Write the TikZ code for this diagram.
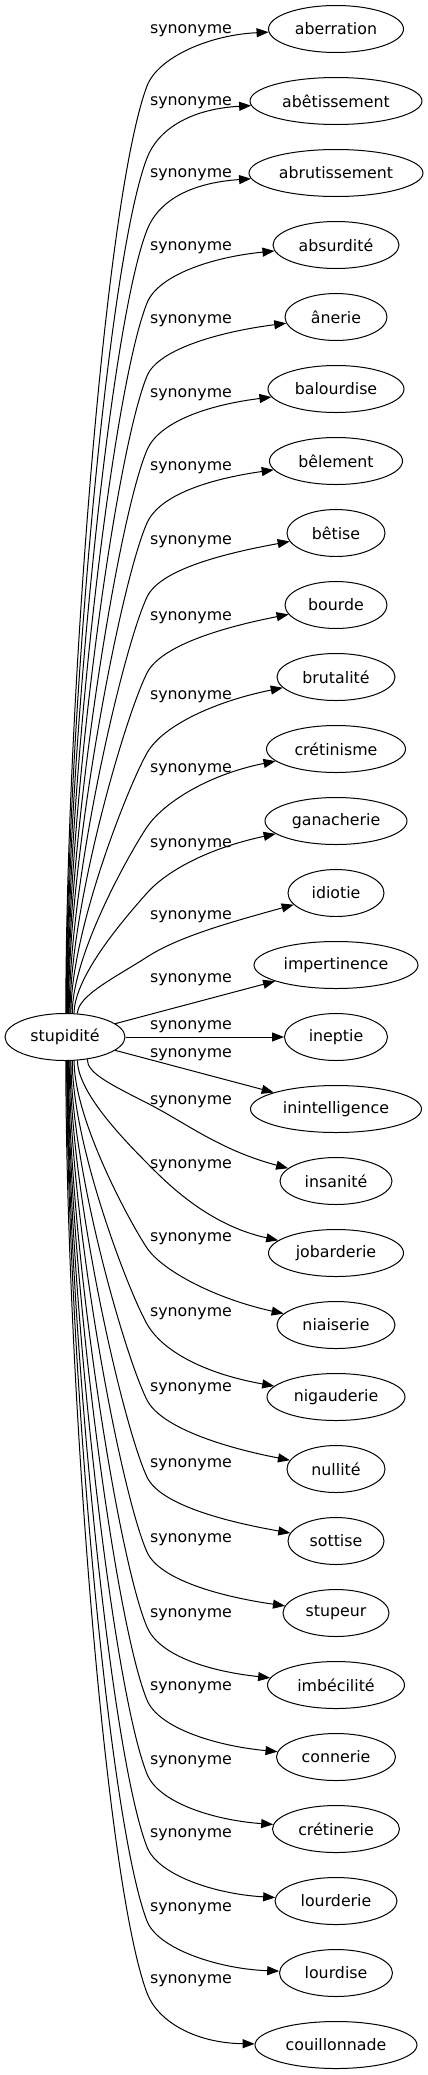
\documentclass[tikz,border=0pt]{standalone}
\usepackage{fontspec}
\setmainfont{DejaVu Sans}
\usepackage{tikz}
\usetikzlibrary{arrows.meta,calc,shapes.geometric}
\newcommand{\wordsize}{\fontsize{15.8}{19}\selectfont}
% link from the head word up to a synonym, bending at x=147
\newcommand{\linkup}[4]{%
  \pgfmathsetmacro{\hh}{1013-#3}%
  \pgfmathsetmacro{\ca}{0.32*\hh}%
  \pgfmathsetmacro{\rr}{0.3+70/\hh}%
  \pgfmathsetmacro{\cq}{max(0.124*\hh,20)}%
  \pgfmathsetmacro{\cs}{min(28,\cq)}%
  \draw[arr] (head.#2) .. controls +(0,-\ca) and +(-\rr*\cq,\cq) .. (147,#3)
    .. controls +(\rr*\cs,-\cs) and ($(#1.west)+(-60,#4)$) .. (#1);}
% same thing, going down
\newcommand{\linkdown}[4]{%
  \pgfmathsetmacro{\hh}{#3-1061}%
  \pgfmathsetmacro{\ca}{0.32*\hh}%
  \pgfmathsetmacro{\rr}{0.3+70/\hh}%
  \pgfmathsetmacro{\cq}{max(0.124*\hh,20)}%
  \pgfmathsetmacro{\cs}{min(28,\cq)}%
  \draw[arr] (head.#2) .. controls +(0,\ca) and +(-\rr*\cq,-\cq) .. (147,#3)
    .. controls +(\rr*\cs,\cs) and ($(#1.west)+(-60,-#4)$) .. (#1);}

\begin{document}
\begin{tikzpicture}[
    x=1pt,y=-1pt,
    term/.style={ellipse,draw,line width=1pt,minimum height=47pt,
      inner xsep=1pt,inner ysep=1pt,font=\wordsize},
    lab/.style={inner sep=0pt,font=\wordsize},
    arr/.style={-{Triangle[length=12pt,width=9pt]},line width=1pt}
  ]
    \useasboundingbox (0,0) rectangle (428,2075);
    \node[term,minimum width=120pt] (head) at (65,1037) {stupidité};

    % synonyms
    \node[term,minimum width=135pt] (aberration) at (336,29) {aberration};
    \node[term,minimum width=172pt] (abetissement) at (336,101) {abêtissement};
    \node[term,minimum width=174pt] (abrutissement) at (336,173) {abrutissement};
    \node[term,minimum width=126pt] (absurdite) at (336,245) {absurdité};
    \node[term,minimum width=102pt] (anerie) at (336,317) {ânerie};
    \node[term,minimum width=136pt] (balourdise) at (336,389) {balourdise};
    \node[term,minimum width=133pt] (belement) at (336,461) {bêlement};
    \node[term,minimum width=98pt] (betise) at (336,533) {bêtise};
    \node[term,minimum width=102pt] (bourde) at (336,605) {bourde};
    \node[term,minimum width=118pt] (brutalite) at (336,677) {brutalité};
    \node[term,minimum width=139pt] (cretinisme) at (336,749) {crétinisme};
    \node[term,minimum width=142pt] (ganacherie) at (336,821) {ganacherie};
    \node[term,minimum width=96pt] (idiotie) at (336,893) {idiotie};
    \node[term,minimum width=164pt] (impertinence) at (336,965) {impertinence};
    \node[term,minimum width=103pt] (ineptie) at (336,1037) {ineptie};
    \node[term,minimum width=171pt] (inintelligence) at (336,1109) {inintelligence};
    \node[term,minimum width=112pt] (insanite) at (336,1181) {insanité};
    \node[term,minimum width=135pt] (jobarderie) at (336,1253) {jobarderie};
    \node[term,minimum width=118pt] (niaiserie) at (336,1325) {niaiserie};
    \node[term,minimum width=138pt] (nigauderie) at (336,1397) {nigauderie};
    \node[term,minimum width=98pt] (nullite) at (336,1469) {nullité};
    \node[term,minimum width=96pt] (sottise) at (336,1541) {sottise};
    \node[term,minimum width=106pt] (stupeur) at (336,1613) {stupeur};
    \node[term,minimum width=137pt] (imbecilite) at (336,1685) {imbécilité};
    \node[term,minimum width=119pt] (connerie) at (336,1757) {connerie};
    \node[term,minimum width=127pt] (cretinerie) at (336,1829) {crétinerie};
    \node[term,minimum width=122pt] (lourderie) at (336,1901) {lourderie};
    \node[term,minimum width=113pt] (lourdise) at (336,1973) {lourdise};
    \node[term,minimum width=162pt] (couillonnade) at (336,2045) {couillonnade};

    % edge labels
    \node[lab] (l-aberration) at (191,31) {synonyme};
    \node[lab] (l-abetissement) at (191,103) {synonyme};
    \node[lab] (l-abrutissement) at (191,175) {synonyme};
    \node[lab] (l-absurdite) at (191,248) {synonyme};
    \node[lab] (l-anerie) at (191,321) {synonyme};
    \node[lab] (l-balourdise) at (191,395) {synonyme};
    \node[lab] (l-belement) at (191,468) {synonyme};
    \node[lab] (l-betise) at (191,542) {synonyme};
    \node[lab] (l-bourde) at (191,618) {synonyme};
    \node[lab] (l-brutalite) at (191,697) {synonyme};
    \node[lab] (l-cretinisme) at (191,770) {synonyme};
    \node[lab] (l-ganacherie) at (191,845) {synonyme};
    \node[lab] (l-idiotie) at (191,917) {synonyme};
    \node[lab] (l-impertinence) at (191,980) {synonyme};
    \node[lab] (l-ineptie) at (191,1027) {synonyme};
    \node[lab] (l-inintelligence) at (191,1055) {synonyme};
    \node[lab] (l-insanite) at (191,1102) {synonyme};
    \node[lab] (l-jobarderie) at (191,1166) {synonyme};
    \node[lab] (l-niaiserie) at (191,1239) {synonyme};
    \node[lab] (l-nigauderie) at (191,1314) {synonyme};
    \node[lab] (l-nullite) at (191,1389) {synonyme};
    \node[lab] (l-sottise) at (191,1465) {synonyme};
    \node[lab] (l-stupeur) at (191,1540) {synonyme};
    \node[lab] (l-imbecilite) at (191,1615) {synonyme};
    \node[lab] (l-connerie) at (191,1688) {synonyme};
    \node[lab] (l-cretinerie) at (191,1762) {synonyme};
    \node[lab] (l-lourderie) at (191,1835) {synonyme};
    \node[lab] (l-lourdise) at (191,1909) {synonyme};
    \node[lab] (l-couillonnade) at (191,1981) {synonyme};

    % links
    \linkup{aberration}{88}{86}{6}
    \linkup{abetissement}{87}{158}{8}
    \linkup{abrutissement}{86}{230}{10}
    \linkup{absurdite}{85}{303}{12}
    \linkup{anerie}{84}{376}{14}
    \linkup{balourdise}{83}{450}{16}
    \linkup{belement}{82}{523}{18}
    \linkup{betise}{80}{597}{20}
    \linkup{bourde}{78}{673}{22}
    \linkup{brutalite}{76}{753}{24}
    \linkup{cretinisme}{73}{827}{26}
    \linkup{ganacherie}{69}{893}{28}
    \linkup{idiotie}{62}{957}{30}
    \draw[arr] (head) -- (impertinence);
    \draw[arr] (head) -- (ineptie);
    \draw[arr] (head) -- (inintelligence);
    \linkdown{insanite}{315}{1103}{31}
    \linkdown{jobarderie}{298}{1163}{28}
    \linkdown{niaiserie}{291}{1248}{26}
    \linkdown{nigauderie}{287}{1324}{23}
    \linkdown{nullite}{284}{1400}{21}
    \linkdown{sottise}{282}{1477}{19}
    \linkdown{stupeur}{280}{1552}{16}
    \linkdown{imbecilite}{278}{1627}{14}
    \linkdown{connerie}{277}{1700}{11}
    \linkdown{cretinerie}{276}{1774}{9}
    \linkdown{lourderie}{275}{1847}{7}
    \linkdown{lourdise}{274}{1921}{4}
    \linkdown{couillonnade}{272}{1993}{2}
  \end{tikzpicture}
\end{document}
